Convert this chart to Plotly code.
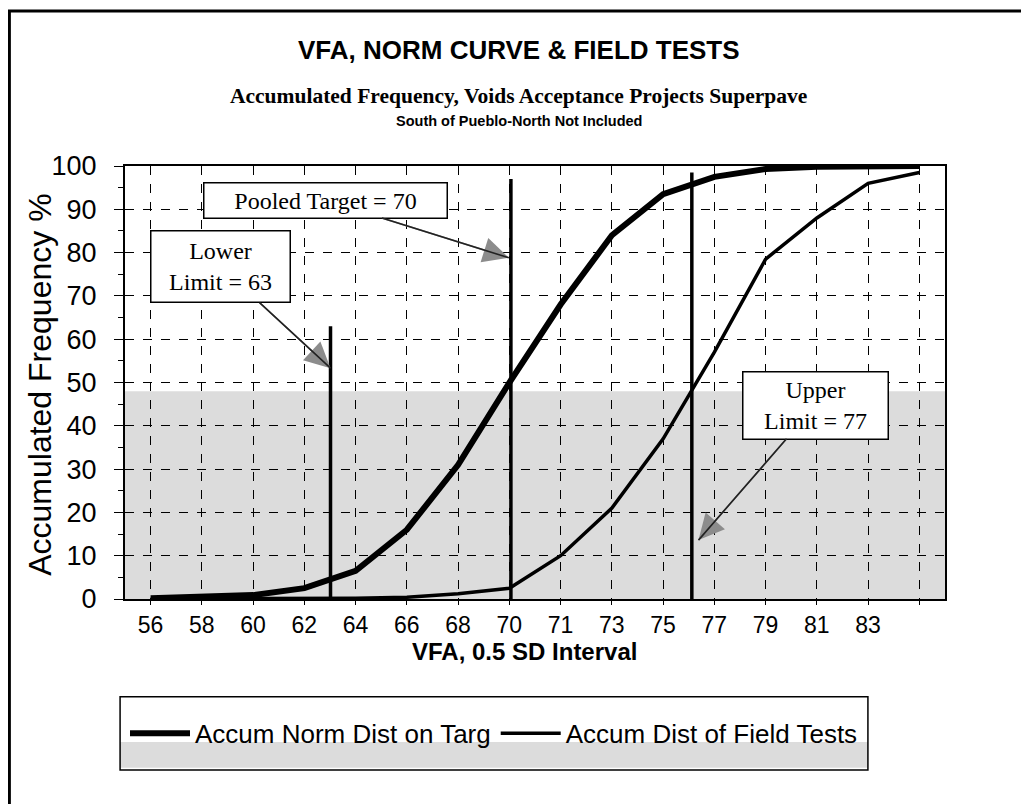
import plotly.graph_objects as go

# --- dados ---
categorias = ["56", "58", "60", "62", "64", "66", "68", "70", "71", "73", "75", "77", "79", "81", "83", ""]
norm_targ = [0.2, 0.4, 0.9, 2.5, 6.5, 16, 31, 50, 68, 84, 93.5, 97.5, 99.3, 99.8, 100, 100]
field_tests = [0, 0, 0, 0.1, 0.2, 0.4, 1.2, 2.5, 10, 21, 37, 57, 78.5, 88, 96, 98.5]

# linhas de limite: posição no eixo de categorias e altura
limites_pos = [3.51, 7.03, 10.56]
limites_topo = [63, 97, 98.5]

SANS = "Liberation Sans, Arial, sans-serif"
SERIF = "Liberation Serif, Times New Roman, serif"

idx = list(range(len(categorias)))

fig = go.Figure()

fig.add_trace(go.Scatter(
    x=idx, y=norm_targ, mode="lines", name="Accum Norm Dist on Targ",
    line=dict(color="black", width=6),
))
fig.add_trace(go.Scatter(
    x=idx, y=field_tests, mode="lines", name="Accum Dist of Field Tests",
    line=dict(color="black", width=3.5),
))

# linhas verticais dos limites
lx, ly = [], []
for p, t in zip(limites_pos, limites_topo):
    lx += [p, p, None]
    ly += [0, t, None]
fig.add_trace(go.Scatter(x=lx, y=ly, mode="lines", showlegend=False,
                         line=dict(color="black", width=3.5), hoverinfo="skip"))

# caixas de texto com setas (ponta cinza por baixo, haste preta por cima)
caixas = [
    dict(text="Pooled Target = 70", x=6.99, y=78.8, ax=3.41, ay=92.1, w=238, h=30),
    dict(text="Lower<br>Limit = 63", x=3.51, y=53.3, ax=1.37, ay=76.7, w=134, h=66),
    dict(text="Upper<br>Limit = 77", x=10.69, y=13.6, ax=12.98, ay=44.8, w=140, h=62),
]
for c in caixas:
    fig.add_annotation(
        x=c["x"], y=c["y"], ax=c["ax"], ay=c["ay"], axref="x", ayref="y",
        text="", showarrow=True, arrowhead=2, arrowsize=3.2, arrowwidth=1.6,
        arrowcolor="#8c8c8c",
    )
for c in caixas:
    fig.add_annotation(
        x=c["x"], y=c["y"], ax=c["ax"], ay=c["ay"], axref="x", ayref="y",
        text=c["text"], showarrow=True, arrowhead=0, arrowwidth=1.6,
        arrowcolor="#222", width=c["w"], height=c["h"],
        font=dict(family=SERIF, size=24, color="black"),
        bgcolor="white", bordercolor="black", borderwidth=1.5, borderpad=2,
    )

# títulos
titulos = [
    ("VFA, NORM CURVE & FIELD TESTS", 1.268, SANS, 26),
    ("Accumulated Frequency, Voids Acceptance Projects Superpave", 1.162, SERIF, 21.5),
    ("South of Pueblo-North Not Included", 1.104, SANS, 14.5),
]
for txt, yy, fam, sz in titulos:
    fig.add_annotation(xref="paper", yref="paper", x=0.48, y=yy, showarrow=False,
                       xanchor="center", yanchor="middle",
                       text=f"<b>{txt}</b>",
                       font=dict(family=fam, size=sz, color="black"))

fig.add_annotation(xref="paper", yref="paper", x=-0.104, y=0.494, showarrow=False,
                   xanchor="center", yanchor="middle",
                   text="Accumulated Frequency %", textangle=-90,
                   font=dict(family=SANS, size=32, color="black"))
fig.add_annotation(xref="paper", yref="paper", x=0.487, y=-0.121, showarrow=False,
                   xanchor="center", yanchor="middle",
                   text="<b>VFA, 0.5 SD Interval</b>",
                   font=dict(family=SANS, size=24, color="black"))

# faixa cinza de fundo, caixa da legenda e moldura
fig.add_shape(type="rect", xref="paper", yref="y", x0=0, x1=1, y0=0, y1=48,
              fillcolor="#dcdcdc", line_width=0, layer="below")
fig.add_shape(type="rect", xref="paper", yref="paper", x0=-0.006, x1=0.906, y0=-0.33, y1=-0.39,
              fillcolor="#dcdcdc", line_width=0, layer="below")
fig.add_shape(type="rect", xref="paper", yref="paper", x0=-0.006, x1=0.906, y0=-0.395, y1=-0.226,
              line=dict(color="black", width=1.5))
fig.add_shape(type="rect", xref="paper", yref="paper", x0=-0.141, x1=1.2, y0=-0.6, y1=1.358,
              line=dict(color="black", width=3))

fig.update_xaxes(
    range=[-0.5, len(categorias) - 0.5], tickvals=idx, ticktext=categorias,
    ticks="outside", ticklen=4, tickcolor="black",
    showgrid=True, gridcolor="black", griddash="dash", gridwidth=1,
    showline=True, linecolor="black", linewidth=2, mirror=True,
    tickfont=dict(family=SANS, size=23, color="black"), zeroline=False,
)
fig.update_yaxes(
    range=[0, 100], dtick=10, ticks="outside", ticklen=9, tickcolor="black",
    minor=dict(dtick=5, ticks="outside", ticklen=5, tickcolor="black"),
    showgrid=True, gridcolor="black", griddash="dash", gridwidth=1,
    showline=True, linecolor="black", linewidth=2, mirror=True,
    tickfont=dict(family=SANS, size=27, color="black"), zeroline=False,
    ticklabelstandoff=12,
)

fig.update_layout(
    width=1021, height=796,
    margin=dict(l=117, r=84, t=158, b=205),
    paper_bgcolor="white", plot_bgcolor="white",
    showlegend=True,
    legend=dict(orientation="h", x=0.0, y=-0.31, xanchor="left", yanchor="middle",
                bgcolor="rgba(0,0,0,0)", font=dict(family=SANS, size=26, color="black"),
                itemwidth=60),
)

fig.write_html("out.html")
